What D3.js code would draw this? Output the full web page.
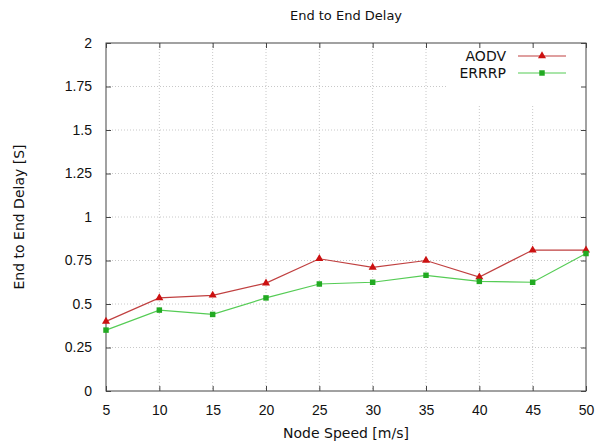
<!DOCTYPE html>
<html>
<head>
<meta charset="utf-8">
<script src="https://cdn.jsdelivr.net/npm/d3@7"></script>
<style>
  body { margin: 0; background: #fff; }
  svg { font-family: "DejaVu Sans", sans-serif; }
</style>
</head>
<body>
<svg width="601" height="444"></svg>
<script>
// chart data
var speeds = [5, 10, 15, 20, 25, 30, 35, 40, 45, 50];
var aodv = [0.40, 0.535, 0.55, 0.62, 0.76, 0.71, 0.75, 0.655, 0.81, 0.81];
var errrp = [0.35, 0.465, 0.44, 0.535, 0.615, 0.625, 0.665, 0.63, 0.625, 0.79];
var yTicks = [0, 0.25, 0.5, 0.75, 1, 1.25, 1.5, 1.75, 2];
var yTickLabels = ["0", "0.25", "0.5", "0.75", "1", "1.25", "1.5", "1.75", "2"];

var svg = d3.select("svg");
var plotLeft = 106, plotRight = 586, plotTop = 43, plotBottom = 391;

var x = d3.scaleLinear().domain([5, 50]).range([plotLeft, plotRight]);
var y = d3.scaleLinear().domain([0, 2]).range([plotBottom, plotTop]);

// grid lines
var grid = svg.append("g").attr("stroke", "#c8c8c8").attr("stroke-dasharray", "1,2");
grid.selectAll(".vg").data(speeds.slice(1, -1)).enter().append("line")
    .attr("x1", function (d) { return x(d); }).attr("x2", function (d) { return x(d); })
    .attr("y1", plotTop).attr("y2", plotBottom);
grid.selectAll(".hg").data(yTicks.slice(1, -1)).enter().append("line")
    .attr("x1", plotLeft).attr("x2", plotRight)
    .attr("y1", function (d) { return y(d); }).attr("y2", function (d) { return y(d); });

// legend background hides the grid
svg.append("rect").attr("x", 448).attr("y", plotTop + 1).attr("width", plotRight - 449).attr("height", 62).attr("fill", "#fff");

// axes with inward ticks on all sides
var axisColor = "#444";
function styleAxis(g) {
    g.select(".domain").remove();
    g.selectAll("line").attr("stroke", axisColor);
    g.selectAll("text").attr("fill", "#111").attr("font-size", 14);
}
svg.append("g").attr("transform", "translate(0," + plotBottom + ")")
    .call(d3.axisBottom(x).tickValues(speeds).tickSize(-5).tickPadding(14).tickFormat(d3.format("d")))
    .call(styleAxis);
svg.append("g").attr("transform", "translate(0," + plotTop + ")")
    .call(d3.axisTop(x).tickValues(speeds).tickSize(-5).tickFormat(""))
    .call(styleAxis);
svg.append("g").attr("transform", "translate(" + plotLeft + ",0)")
    .call(d3.axisLeft(y).tickValues(yTicks).tickSize(-5).tickPadding(14)
        .tickFormat(function (d, i) { return yTickLabels[i]; }))
    .call(styleAxis);
svg.append("g").attr("transform", "translate(" + plotRight + ",0)")
    .call(d3.axisRight(y).tickValues(yTicks).tickSize(-5).tickFormat(""))
    .call(styleAxis);

svg.append("rect").attr("x", plotLeft).attr("y", plotTop).attr("width", plotRight - plotLeft).attr("height", plotBottom - plotTop)
    .attr("fill", "none").attr("stroke", axisColor).attr("stroke-width", 1);

// series
var line = d3.line().x(function (d) { return x(d[0]); }).y(function (d) { return y(d[1]); });
var series = [
    { name: "AODV", values: aodv, line: "#c04040", mark: "#cc1111", shape: d3.symbolTriangle, size: 28 },
    { name: "ERRRP", values: errrp, line: "#55cc55", mark: "#22aa22", shape: d3.symbolSquare, size: 30 }
];

series.forEach(function (s, k) {
    var pts = speeds.map(function (sp, i) { return [sp, s.values[i]]; });
    svg.append("path").datum(pts).attr("d", line)
        .attr("fill", "none").attr("stroke", s.line).attr("stroke-width", 1.2);
    svg.selectAll(".m" + k).data(pts).enter().append("path")
        .attr("d", d3.symbol().type(s.shape).size(s.size))
        .attr("transform", function (d) { return "translate(" + x(d[0]) + "," + y(d[1]) + ")"; })
        .attr("fill", s.mark);

    // legend entry
    var ly = 56 + k * 17;
    svg.append("text").attr("x", 506).attr("y", ly + 5).attr("text-anchor", "end")
        .attr("font-size", 14).attr("fill", "#111").text(s.name);
    svg.append("line").attr("x1", 518).attr("x2", 566).attr("y1", ly).attr("y2", ly)
        .attr("stroke", s.line).attr("stroke-width", 1.2);
    svg.append("path").attr("d", d3.symbol().type(s.shape).size(s.size))
        .attr("transform", "translate(542," + ly + ")").attr("fill", s.mark);
});

// titles
svg.append("text").attr("x", (plotLeft + plotRight) / 2).attr("y", 20).attr("text-anchor", "middle")
    .attr("font-size", 13).attr("fill", "#111").text("End to End Delay");
svg.append("text").attr("x", (plotLeft + plotRight) / 2).attr("y", 438).attr("text-anchor", "middle")
    .attr("font-size", 14).attr("fill", "#111").text("Node Speed [m/s]");
svg.append("text").attr("transform", "translate(24," + ((plotTop + plotBottom) / 2) + ") rotate(-90)")
    .attr("text-anchor", "middle").attr("font-size", 14).attr("fill", "#111").text("End to End Delay [S]");
</script>
</body>
</html>
